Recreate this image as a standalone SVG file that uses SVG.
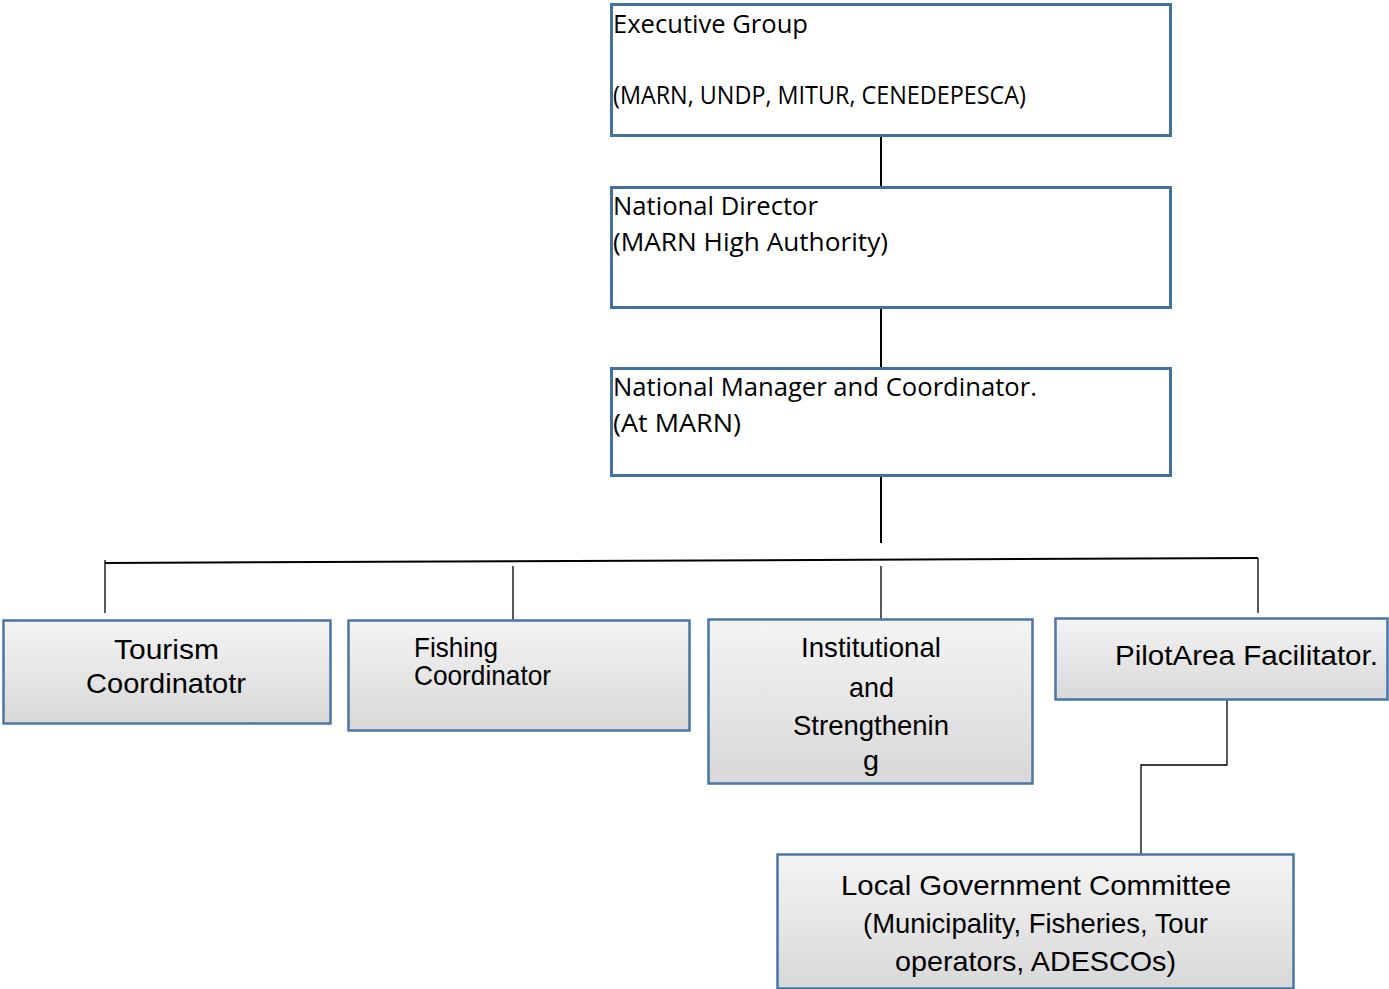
<svg xmlns="http://www.w3.org/2000/svg" width="1389" height="989" viewBox="0 0 1389 989">
<style>
.top{fill:#ffffff;stroke:#41719c;stroke-width:3}
.bot{fill:url(#g);stroke:#4a76a6;stroke-width:2.5}
.t1{font-family:"Open Sans","Liberation Sans",sans-serif;font-size:25px;fill:#000}
.t2{font-family:"Liberation Sans",Arial,sans-serif;font-size:28px;fill:#000}
.c{stroke:#000;stroke-width:2;fill:none}
.c1{stroke:#000;stroke-width:1.3;fill:none}
</style>
<defs>
<linearGradient id="g" x1="0" y1="0" x2="0" y2="1">
<stop offset="0" stop-color="#f4f4f4"/>
<stop offset="1" stop-color="#d8d8d8"/>
</linearGradient>
</defs>
<g id="connectors">
<line class="c" x1="881" y1="137" x2="881" y2="187"/>
<line class="c" x1="881" y1="309" x2="881" y2="368"/>
<line class="c" x1="881" y1="477" x2="881" y2="543"/>
<line class="c" x1="105" y1="563" x2="1258" y2="558"/>
<line class="c1" x1="105" y1="560" x2="105" y2="613"/>
<line class="c1" x1="513" y1="566" x2="513" y2="620"/>
<line class="c1" x1="881" y1="566" x2="881" y2="619"/>
<line class="c1" x1="1258" y1="558" x2="1258" y2="613"/>
<polyline class="c1" points="1227,700 1227,765 1141,765 1141,854"/>
</g>
<g id="executive">
<rect class="top" x="611.5" y="4.5" width="559" height="131"/>
<text class="t1" x="613" y="33" textLength="195" lengthAdjust="spacingAndGlyphs">Executive Group</text>
<text class="t1" x="613" y="104" textLength="413" lengthAdjust="spacingAndGlyphs">(MARN, UNDP, MITUR, CENEDEPESCA)</text>
</g>
<g id="director">
<rect class="top" x="611.5" y="187.5" width="559" height="120"/>
<text class="t1" x="613" y="215" textLength="205" lengthAdjust="spacingAndGlyphs">National Director</text>
<text class="t1" x="613" y="251" textLength="275" lengthAdjust="spacingAndGlyphs">(MARN High Authority)</text>
</g>
<g id="manager">
<rect class="top" x="611.5" y="368.5" width="559" height="107"/>
<text class="t1" x="613" y="396" textLength="424" lengthAdjust="spacingAndGlyphs">National Manager and Coordinator.</text>
<text class="t1" x="613" y="432" textLength="128" lengthAdjust="spacingAndGlyphs">(At MARN)</text>
</g>
<g id="tourism">
<rect class="bot" x="3.5" y="620.5" width="327" height="103"/>
<text class="t2" x="114" y="659" textLength="105" lengthAdjust="spacingAndGlyphs">Tourism</text>
<text class="t2" x="86" y="693" textLength="160" lengthAdjust="spacingAndGlyphs">Coordinatotr</text>
</g>
<g id="fishing">
<rect class="bot" x="348.5" y="620.5" width="341" height="110"/>
<text class="t2" x="414" y="657" textLength="84" lengthAdjust="spacingAndGlyphs">Fishing</text>
<text class="t2" x="414" y="685" textLength="137" lengthAdjust="spacingAndGlyphs">Coordinator</text>
</g>
<g id="institutional">
<rect class="bot" x="708.5" y="619.5" width="324" height="164"/>
<text class="t2" x="801" y="657" textLength="140" lengthAdjust="spacingAndGlyphs">Institutional</text>
<text class="t2" x="849" y="697" textLength="45" lengthAdjust="spacingAndGlyphs">and</text>
<text class="t2" x="793" y="735" textLength="156" lengthAdjust="spacingAndGlyphs">Strengthenin</text>
<text class="t2" x="863" y="770" textLength="16" lengthAdjust="spacingAndGlyphs">g</text>
</g>
<g id="pilot">
<rect class="bot" x="1055.5" y="618.5" width="332" height="81"/>
<text class="t2" x="1115" y="665" textLength="263" lengthAdjust="spacingAndGlyphs">PilotArea Facilitator.</text>
</g>
<g id="local">
<rect class="bot" x="777.5" y="854.5" width="516" height="134"/>
<text class="t2" x="841" y="895" textLength="390" lengthAdjust="spacingAndGlyphs">Local Government Committee</text>
<text class="t2" x="863" y="933" textLength="345" lengthAdjust="spacingAndGlyphs">(Municipality, Fisheries, Tour</text>
<text class="t2" x="895" y="971" textLength="281" lengthAdjust="spacingAndGlyphs">operators, ADESCOs)</text>
</g>
</svg>
